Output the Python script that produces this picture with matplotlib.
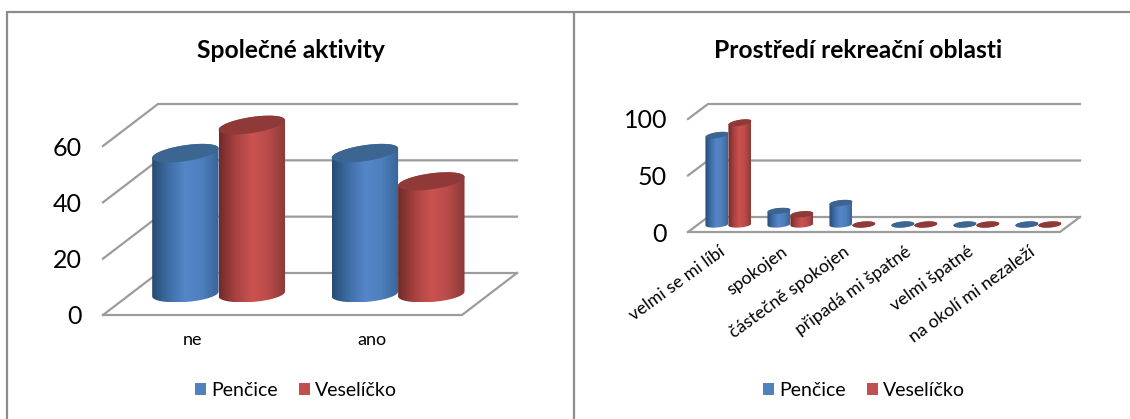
import numpy as np
import matplotlib
matplotlib.use("Agg")
import matplotlib.pyplot as plt
from matplotlib.colors import LinearSegmentedColormap
from matplotlib.patches import Patch, Polygon

plt.rcParams["font.family"] = ["Lato", "DejaVu Sans"]

# data
series_names = ["Penčice", "Veselíčko"]

activity_title = "Společné aktivity"
activity_cats = ["ne", "ano"]
activity_pencice = [50, 50]
activity_veselicko = [60, 40]
activity_ticks = [0, 20, 40, 60]

area_title = "Prostředí rekreační oblasti"
area_cats = ["velmi se mi líbí", "spokojen", "částečně spokojen",
             "připadá mi špatné", "velmi špatné", "na okolí mi nezaleží"]
area_pencice = [79, 12, 19, 0, 0, 0]
area_veselicko = [90, 9, 0, 0, 0, 0]
area_ticks = [0, 50, 100]

# colours
blue_shade = ["#274b73", "#3f6ea6", "#5586c8", "#4d7fbd", "#3a6496"]
red_shade = ["#6f2a29", "#a84240", "#cc5250", "#b84b49", "#8a3a38"]
blue_top = "#3c6592"
red_top = "#8f3a38"
blue_key = "#4f81bd"
red_key = "#c0504d"
grid_col = "#9c9c9c"
frame_col = "#8c8c8c"

W, H = 1130, 419
fig = plt.figure(figsize=(W / 100, H / 100), dpi=100, facecolor="white")


def cylinder(ax, x, val, width, sx, sy, off, b, cmap, top_col):
    # x, val, width in data units, off/b are pixel sizes of the fake depth
    t = np.linspace(0, np.pi, 40)
    ox = off[0] / sx
    oy = off[1] / sy
    cx = x + ox
    h_px = val * sy
    # ellipses lean a little more the higher up they sit
    lean_base = b * 0.3
    lean_top = lean_base + min(h_px / 60, b * 0.3)
    xs = cx + width / 2 * np.cos(t)
    base_y = oy + (-b * np.sin(t) + lean_base * np.cos(t)) / sy
    top_up = val + oy + (b * np.sin(t) + lean_top * np.cos(t)) / sy
    top_lo = val + oy + (-b * np.sin(t) + lean_top * np.cos(t)) / sy

    body = np.r_[np.c_[xs[::-1], base_y[::-1]], np.c_[xs, top_up]]
    patch = Polygon(body, closed=True, fc="none", ec="none", transform=ax.transData)
    ax.add_patch(patch)
    grad = np.linspace(0, 1, 128).reshape(1, -1)
    ext = (cx - width / 2, cx + width / 2, body[:, 1].min(), body[:, 1].max())
    im = ax.imshow(grad, extent=ext, aspect="auto", cmap=cmap, zorder=3,
                   interpolation="bilinear")
    im.set_clip_path(patch)
    im.set_clip_box(fig.bbox)

    lid = np.r_[np.c_[xs, top_up], np.c_[xs[::-1], top_lo[::-1]]]
    ax.add_patch(Polygon(lid, closed=True, fc=top_col, ec="none", zorder=4, clip_on=False))


def chart(box, depth, cats, vals_a, vals_b, ticks, title, title_x, title_y,
          bar_b, label_size, rot, pad_x, legend_x):
    left, right, bottom, top = box
    ax = fig.add_axes([left / W, 1 - bottom / H, (right - left) / W, (bottom - top) / H])
    n = len(cats)
    sx = (right - left) / n
    sy = (bottom - top) / ticks[-1]
    dx = depth[0] / sx
    dy = depth[1] / sy

    # back wall, side wall and floor lines
    for tk in ticks:
        ax.plot([-0.5, -0.5 + dx, n - 0.5 + dx], [tk, tk + dy, tk + dy],
                color=grid_col, lw=1.6, clip_on=False, zorder=1, solid_joinstyle="miter")
    ax.plot([-0.5, n - 0.5, n - 0.5 + dx], [0, 0, dy], color=grid_col, lw=1.6,
            clip_on=False, zorder=1)

    cmap_a = LinearSegmentedColormap.from_list("a", blue_shade)
    cmap_b = LinearSegmentedColormap.from_list("b", red_shade)
    width = 0.37
    off = (depth[0] * 0.47, depth[1] / 2)
    for i in range(n):
        cylinder(ax, i - width / 2, vals_a[i], width, sx, sy, off, bar_b, cmap_a, blue_top)
        cylinder(ax, i + width / 2, vals_b[i], width, sx, sy, off, bar_b, cmap_b, red_top)

    ax.set_xlim(-0.5, n - 0.5)
    ax.set_ylim(0, ticks[-1])
    ax.patch.set_alpha(0)
    for s in ax.spines.values():
        s.set_visible(False)
    ax.set_yticks(ticks)
    ax.tick_params(axis="y", length=0, pad=15, labelsize=18, labelcolor="black")
    ax.set_xticks(range(n))
    if rot:
        ax.set_xticklabels(cats, rotation=rot, ha="right", rotation_mode="anchor", fontsize=label_size)
    else:
        ax.set_xticklabels(cats, fontsize=label_size)
    ax.tick_params(axis="x", length=0, pad=pad_x)

    fig.text(title_x / W, 1 - title_y / H, title, ha="center", va="center",
             fontsize=17.7, fontweight="bold", color="black")

    handles = [Patch(fc=blue_key, label=series_names[0]), Patch(fc=red_key, label=series_names[1])]
    fig.legend(handles=handles, loc="center", bbox_to_anchor=(legend_x / W, 1 - 390 / H),
               ncol=2, frameon=False, fontsize=14, handlelength=0.57, handleheight=0.57,
               handletextpad=0.25, columnspacing=1.08, borderpad=0)


# left chart
chart((103, 462, 315, 146), (55, 42), activity_cats, activity_pencice, activity_veselicko,
      activity_ticks, activity_title, 291, 50, 8, 13, 0, 12.5, 296)
# right chart
chart((688, 1060, 232, 119), (20, 15), area_cats, area_pencice, area_veselicko,
      area_ticks, area_title, 858, 51, 3, 12.8, 36, 8.5, 864)

# frame around both panels
frame = fig.add_axes([0, 0, 1, 1], zorder=5)
frame.set_xlim(0, W)
frame.set_ylim(H, 0)
frame.axis("off")
frame.patch.set_alpha(0)
frame.plot([7, 7], [H, 12], color=frame_col, lw=1.6, solid_capstyle="butt")
frame.plot([6, W], [12, 12], color=frame_col, lw=1.6, solid_capstyle="butt")
frame.plot([574, 574], [H, 12], color=frame_col, lw=1.6, solid_capstyle="butt")

fig.savefig("out.png", dpi=100)
